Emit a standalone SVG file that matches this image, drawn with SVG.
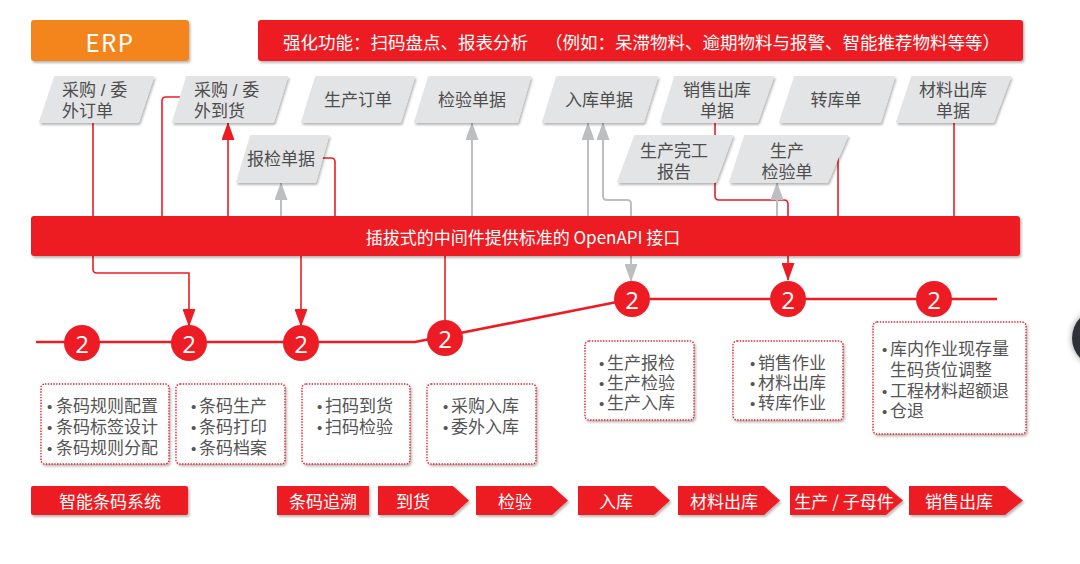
<svg xmlns="http://www.w3.org/2000/svg" width="1080" height="564" viewBox="0 0 1080 564">
<defs>
<filter id="sh" x="-10%" y="-20%" width="120%" height="150%">
<feDropShadow dx="1.5" dy="2" stdDeviation="1.2" flood-color="#000" flood-opacity="0.28"/>
</filter>
<filter id="sh2" x="-50%" y="-50%" width="200%" height="200%">
<feDropShadow dx="0" dy="0" stdDeviation="3" flood-color="#000" flood-opacity="0.4"/>
</filter>
<marker id="ar" viewBox="0 0 18 13" refX="17" refY="6.5" markerWidth="18" markerHeight="13" markerUnits="userSpaceOnUse" orient="auto">
<path d="M0,0 L18,6.5 L0,13 z" fill="#ED1C24"/>
</marker>
<marker id="ag" viewBox="0 0 18 13" refX="17" refY="6.5" markerWidth="18" markerHeight="13" markerUnits="userSpaceOnUse" orient="auto">
<path d="M0,0 L18,6.5 L0,13 z" fill="#BCBEC0"/>
</marker>
</defs>
<style>
text{font-family:"Noto Sans CJK SC","Noto Sans",sans-serif;dominant-baseline:central}
.pg{fill:#E3E4E5;stroke:#E3E4E5;stroke-width:2;stroke-linejoin:round;filter:url(#sh)}
.pt{font-family:"Liberation Sans","Noto Sans CJK SC",sans-serif;font-size:17px;fill:#4D4D4D;text-anchor:middle;transform:translateY(1.5px)}
.pl{font-family:"Liberation Sans","Noto Sans CJK SC",sans-serif;font-size:17px;fill:#4D4D4D;transform:translateY(1.5px)}
.rc{fill:#ED1C24;filter:url(#sh)}
.wt{font-size:17px;fill:#fff;text-anchor:middle}
.cr{fill:none;stroke:#ED1C24;stroke-width:1.6}
.cg{fill:none;stroke:#BCBEC0;stroke-width:2}
.tl{fill:none;stroke:#ED1C24;stroke-width:2.6}
.ci{fill:#ED1C24}
.cn{font-family:"Open Sans","Noto Sans",sans-serif;font-size:24px;fill:#fff;text-anchor:middle}
.bx{fill:#fff;stroke:#ED1C24;stroke-width:1.4;stroke-dasharray:1.4 1.4;filter:url(#sh)}
.bt{font-family:"Liberation Sans","Noto Sans CJK SC",sans-serif;font-size:17px;fill:#555;transform:translateY(1.5px)}
.bu{font-size:15px}
</style>
<rect x="0" y="0" width="1080" height="564" fill="#fff"/>

<g id="connectors">
<path class="cr" d="M93,122 V269 Q93,273 97,273 H189 V326" marker-end="url(#ar)"/>
<path class="cr" d="M181,97 H166 Q162,97 162,101 V216"/>
<path class="cr" d="M228,216 V123" marker-end="url(#ar)"/>
<path class="cg" d="M281,216 V183" marker-end="url(#ag)"/>
<path class="cr" d="M318,158 H331 Q335,158 335,162 V216"/>
<path class="cr" d="M301,256 V326" marker-end="url(#ar)"/>
<path class="cr" d="M445,256 V321"/>
<path class="cg" d="M472,216 V123" marker-end="url(#ag)"/>
<path class="cg" d="M588,216 V123" marker-end="url(#ag)"/>
<path class="cg" d="M631,216 V204 Q631,200 627,200 H607 Q603,200 603,196 V123" marker-end="url(#ag)"/>
<path class="cg" d="M631,256 V281" marker-end="url(#ag)"/>
<path class="cr" d="M715,122 V196 Q715,200 719,200 H784 Q788,200 788,204 V280" marker-end="url(#ar)"/>
<path class="cg" d="M777,216 V183" marker-end="url(#ag)"/>
<path class="cr" d="M838,145 V216"/>
<path class="cr" d="M954,122 V216"/>
<path class="tl" d="M36,342 H415 L632,299 H997"/>
</g>

<g id="erp">
<rect x="31" y="20" width="158" height="41" rx="3" fill="#F4851F" filter="url(#sh)"/>
<text x="110" y="41" font-family="Noto Sans,sans-serif" font-size="24" fill="#fff" text-anchor="middle" letter-spacing="1.5">ERP</text>
</g>
<g id="banner">
<rect x="258" y="20" width="765" height="41" rx="3" class="rc"/>
<text y="41" font-size="17.5" fill="#fff"><tspan x="283">强化功能：扫码盘点、报表分析</tspan><tspan x="545">（例如：呆滞物料、逾期物料与报警、智能推荐物料等等）</tspan></text>
</g>

<g id="n-cgwwdd">
<polygon class="pg" points="40,122 138,122 153,77 55,77"/>
<text class="pl"><tspan x="62" y="88">采购 / 委</tspan><tspan x="62" y="109">外订单</tspan></text>
</g>
<g id="n-cgwwdh">
<polygon class="pg" points="173,122 273,122 287,77 187,77"/>
<text class="pl"><tspan x="194" y="88">采购 / 委</tspan><tspan x="194" y="109">外到货</tspan></text>
</g>
<g id="n-scdd">
<polygon class="pg" points="302,122 400,122 414,77 316,77"/>
<text class="pt" x="358" y="99">生产订单</text>
</g>
<g id="n-jydj">
<polygon class="pg" points="415,122 517,122 530,77 429,77"/>
<text class="pt" x="472" y="99">检验单据</text>
</g>
<g id="n-rkdj">
<polygon class="pg" points="543,122 643,122 657,77 557,77"/>
<text class="pt" x="599" y="99">入库单据</text>
</g>
<g id="n-xsck">
<polygon class="pg" points="661,122 757,122 773,77 675,77"/>
<text class="pt"><tspan x="717" y="88">销售出库</tspan><tspan x="717" y="109">单据</tspan></text>
</g>
<g id="n-zkd">
<polygon class="pg" points="780,122 880,122 894,77 795,77"/>
<text class="pt" x="836" y="99">转库单</text>
</g>
<g id="n-clck">
<polygon class="pg" points="897,122 993,122 1010,77 912,77"/>
<text class="pt"><tspan x="953" y="88">材料出库</tspan><tspan x="953" y="109">单据</tspan></text>
</g>
<g id="n-bjdj">
<polygon class="pg" points="237,182 315,182 328,136 251,136"/>
<text class="pt" x="281" y="158">报检单据</text>
</g>
<g id="n-scwgbg">
<polygon class="pg" points="618,182 715,182 732,136 635,136"/>
<text class="pt"><tspan x="674" y="149">生产完工</tspan><tspan x="674" y="170">报告</tspan></text>
</g>
<g id="n-scjyd">
<polygon class="pg" points="730,182 827,182 847,136 745,136"/>
<text class="pt"><tspan x="787" y="149">生产</tspan><tspan x="787" y="170">检验单</tspan></text>
</g>

<g id="openapi">
<rect x="31" y="216" width="989" height="40" rx="3" class="rc"/>
<text class="wt" x="523" y="236" font-size="17.3">插拔式的中间件提供标准的 OpenAPI 接口</text>
</g>

<g id="steps">
<circle class="ci" cx="82" cy="343" r="18"/><text class="cn" x="82" y="343">2</text>
<circle class="ci" cx="189" cy="343" r="18"/><text class="cn" x="189" y="343">2</text>
<circle class="ci" cx="301" cy="343" r="18"/><text class="cn" x="301" y="343">2</text>
<circle class="ci" cx="445" cy="338" r="18"/><text class="cn" x="445" y="338">2</text>
<circle class="ci" cx="632" cy="299" r="18"/><text class="cn" x="632" y="299">2</text>
<circle class="ci" cx="788" cy="299" r="18"/><text class="cn" x="788" y="299">2</text>
<circle class="ci" cx="934" cy="299" r="18"/><text class="cn" x="934" y="299">2</text>
</g>

<g id="box1">
<rect class="bx" x="41" y="384" width="128" height="80" rx="4"/>
<text class="bt"><tspan class="bu" x="47" y="404">•</tspan><tspan x="56" y="404">条码规则配置</tspan><tspan class="bu" x="47" y="425">•</tspan><tspan x="56" y="425">条码标签设计</tspan><tspan class="bu" x="47" y="446">•</tspan><tspan x="56" y="446">条码规则分配</tspan></text>
</g>
<g id="box2">
<rect class="bx" x="176" y="384" width="109" height="80" rx="4"/>
<text class="bt"><tspan class="bu" x="191" y="404">•</tspan><tspan x="199" y="404">条码生产</tspan><tspan class="bu" x="191" y="425">•</tspan><tspan x="199" y="425">条码打印</tspan><tspan class="bu" x="191" y="446">•</tspan><tspan x="199" y="446">条码档案</tspan></text>
</g>
<g id="box3">
<rect class="bx" x="302" y="384" width="108" height="80" rx="4"/>
<text class="bt"><tspan class="bu" x="317" y="404">•</tspan><tspan x="325" y="404">扫码到货</tspan><tspan class="bu" x="317" y="425">•</tspan><tspan x="325" y="425">扫码检验</tspan></text>
</g>
<g id="box4">
<rect class="bx" x="427" y="384" width="109" height="80" rx="4"/>
<text class="bt"><tspan class="bu" x="443" y="404">•</tspan><tspan x="451" y="404">采购入库</tspan><tspan class="bu" x="443" y="425">•</tspan><tspan x="451" y="425">委外入库</tspan></text>
</g>
<g id="box5">
<rect class="bx" x="585" y="341" width="109" height="79" rx="4"/>
<text class="bt"><tspan class="bu" x="599" y="361">•</tspan><tspan x="607" y="361">生产报检</tspan><tspan class="bu" x="599" y="381">•</tspan><tspan x="607" y="381">生产检验</tspan><tspan class="bu" x="599" y="401">•</tspan><tspan x="607" y="401">生产入库</tspan></text>
</g>
<g id="box6">
<rect class="bx" x="733" y="341" width="110" height="79" rx="4"/>
<text class="bt"><tspan class="bu" x="750" y="361">•</tspan><tspan x="758" y="361">销售作业</tspan><tspan class="bu" x="750" y="381">•</tspan><tspan x="758" y="381">材料出库</tspan><tspan class="bu" x="750" y="401">•</tspan><tspan x="758" y="401">转库作业</tspan></text>
</g>
<g id="box7">
<rect class="bx" x="873" y="322" width="153" height="112" rx="4"/>
<text class="bt"><tspan class="bu" x="882" y="347">•</tspan><tspan x="890" y="347">库内作业现存量</tspan><tspan x="890" y="368">生码货位调整</tspan><tspan class="bu" x="882" y="389">•</tspan><tspan x="890" y="389">工程材料超额退</tspan><tspan class="bu" x="882" y="409">•</tspan><tspan x="890" y="409">仓退</tspan></text>
</g>

<g id="t-znbm">
<rect class="rc" x="31" y="486" width="157" height="29" rx="2"/>
<text class="wt" x="110" y="500">智能条码系统</text>
</g>
<g id="t-tmzs">
<rect class="rc" x="277" y="486" width="92" height="29"/>
<text class="wt" x="323" y="500">条码追溯</text>
</g>
<g id="t-dh">
<polygon class="rc" points="378,486 453,486 469,500.5 453,515 378,515"/>
<text class="wt" x="413" y="500">到货</text>
</g>
<g id="t-jy">
<polygon class="rc" points="476,486 552,486 568,500.5 552,515 476,515"/>
<text class="wt" x="515" y="500">检验</text>
</g>
<g id="t-rk">
<polygon class="rc" points="578,486 654,486 670,500.5 654,515 578,515"/>
<text class="wt" x="616" y="500">入库</text>
</g>
<g id="t-clck">
<polygon class="rc" points="678,486 764,486 780,500.5 764,515 678,515"/>
<text class="wt" x="724" y="500">材料出库</text>
</g>
<g id="t-sc">
<polygon class="rc" points="790,486 886,486 903,500.5 886,515 790,515"/>
<text class="wt" x="844" y="500">生产 / 子母件</text>
</g>
<g id="t-xsck">
<polygon class="rc" points="909,486 1005,486 1023,500.5 1005,515 909,515"/>
<text class="wt" x="959" y="500">销售出库</text>
</g>

<circle cx="1101" cy="338" r="29" fill="#2E3238" filter="url(#sh2)"/>
</svg>
